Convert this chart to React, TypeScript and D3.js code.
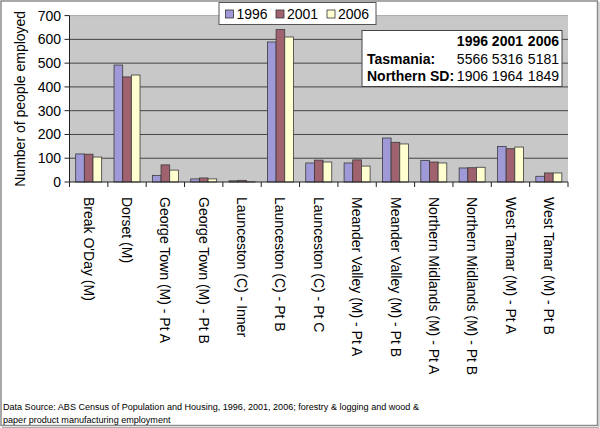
import React from "react";
import * as d3 from "d3";

const categories = [
  "Break O'Day (M)",
  "Dorset (M)",
  "George Town (M) - Pt A",
  "George Town (M) - Pt B",
  "Launceston (C) - Inner",
  "Launceston (C) - Pt B",
  "Launceston (C) - Pt C",
  "Meander Valley (M) - Pt A",
  "Meander Valley (M) - Pt B",
  "Northern Midlands (M) - Pt A",
  "Northern Midlands (M) - Pt B",
  "West Tamar (M) - Pt A",
  "West Tamar (M) - Pt B",
];
const seriesNames = ["1996", "2001", "2006"];
const values1996 = [118, 492, 28, 13, 5, 589, 80, 80, 185, 91, 59, 149, 24];
const values2001 = [117, 442, 72, 17, 7, 641, 92, 93, 167, 84, 60, 140, 38];
const values2006 = [105, 450, 50, 13, 1, 610, 84, 67, 160, 80, 62, 147, 38];
const yTicks = [0, 100, 200, 300, 400, 500, 600, 700];
const colors = ["#9f99d8", "#a0626e", "#ffffd0"];
const tableHeader = ["1996", "2001", "2006"];
const tableRows = [
  { label: "Tasmania:", vals: ["5566", "5316", "5181"] },
  { label: "Northern SD:", vals: ["1906", "1964", "1849"] },
];
const footnote = [
  "Data Source: ABS Census of Population and Housing, 1996, 2001, 2006; forestry & logging and wood &",
  "paper product manufacturing employment",
];

const W = 600;
const H = 428;
const FONT = "Arial, 'Liberation Sans', sans-serif";

export default function App() {
  const series = [values1996, values2001, values2006];
  const left = 69.5;
  const right = 568;
  const top = 15.6;
  const bottom = 182;
  const x = d3.scaleBand<string>().domain(categories).range([left, right]).paddingInner(0).paddingOuter(0);
  const bw = x.bandwidth();
  const groupW = 26;
  const xs = d3
    .scaleBand<string>()
    .domain(seriesNames)
    .range([(bw - groupW) / 2, (bw + groupW) / 2])
    .padding(0);
  const y = d3.scaleLinear().domain([0, 700]).range([bottom, top]);

  const colEnds = [488, 523, 559];

  return (
    <svg
      width={W}
      height={H}
      viewBox={`0 0 ${W} ${H}`}
      style={{ position: "absolute", left: 0, top: 0, fontFamily: FONT }}
    >
      <rect x={0} y={0} width={W} height={H} fill="#ffffff" />
      <rect x={1} y={1} width={596.5} height={424.5} fill="#ffffff" stroke="#8c8c8c" strokeWidth={1.5} />
      <line x1={599} y1={2} x2={599} y2={427} stroke="#b0b0b0" strokeWidth={1} />
      <line x1={2} y1={427.5} x2={599} y2={427.5} stroke="#b0b0b0" strokeWidth={1} />

      {/* plot area */}
      <rect x={left} y={top} width={right - left} height={bottom - top} fill="#c8c8c8" />
      <line x1={left} x2={right} y1={top} y2={top} stroke="#a8a8a8" strokeWidth={1} />
      {yTicks
        .filter((t) => t > 0 && t < 700)
        .map((t) => (
          <line key={t} x1={left} x2={right} y1={y(t)} y2={y(t)} stroke="#444" strokeWidth={1} />
        ))}

      {/* bars */}
      {categories.map((c, i) => (
        <g key={c} transform={`translate(${x(c)},0)`}>
          {seriesNames.map((s, j) => {
            const v = series[j][i];
            const bx = xs(s)!;
            return (
              <rect
                key={s}
                x={bx}
                y={y(v)}
                width={xs.bandwidth()}
                height={bottom - y(v)}
                fill={colors[j]}
                stroke="#3a3a3a"
                strokeWidth={0.8}
              />
            );
          })}
        </g>
      ))}

      {/* axes */}
      <line x1={left} x2={left} y1={top} y2={bottom} stroke="#222" strokeWidth={1} />
      <line x1={left} x2={right} y1={bottom} y2={bottom} stroke="#222" strokeWidth={1} />
      {yTicks.map((t) => (
        <g key={t}>
          <line x1={left - 5} x2={left} y1={y(t)} y2={y(t)} stroke="#222" />
          <text x={61} y={y(t)} dy="0.35em" textAnchor="end" fontSize={14} fill="#000">
            {t}
          </text>
        </g>
      ))}
      {categories.map((c) => (
        <line key={c} x1={x(c)!} x2={x(c)!} y1={bottom} y2={bottom + 5} stroke="#222" />
      ))}
      <line x1={right} x2={right} y1={bottom} y2={bottom + 5} stroke="#222" />
      {categories.map((c) => {
        const cx = x(c)! + bw / 2;
        return (
          <text
            key={c}
            transform={`translate(${cx},${197}) rotate(90)`}
            dy="0.35em"
            fontSize={14}
            fill="#000"
          >
            {c}
          </text>
        );
      })}

      <text
        transform={`translate(20,${(top + bottom) / 2}) rotate(-90)`}
        textAnchor="middle"
        dy="0.35em"
        fontSize={14}
        fill="#000"
      >
        Number of people employed
      </text>

      {/* legend */}
      <rect x={219} y={2.5} width={157} height={22} fill="#fff" stroke="#555" strokeWidth={1} />
      {seriesNames.map((s, j) => {
        const sx = [225.5, 276, 327][j];
        return (
          <g key={s}>
            <rect x={sx} y={10} width={8} height={8} fill={colors[j]} stroke="#333" strokeWidth={0.8} />
            <text x={sx + 11} y={19} fontSize={14} fill="#000">
              {s}
            </text>
          </g>
        );
      })}

      {/* inset table */}
      <rect x={362} y={30.5} width={200} height={56} fill="#fff" stroke="#444" strokeWidth={1} />
      {tableHeader.map((h, k) => (
        <text key={h} x={colEnds[k]} y={46} textAnchor="end" fontSize={14} fontWeight="bold" fill="#000">
          {h}
        </text>
      ))}
      {tableRows.map((r, ri) => (
        <g key={r.label}>
          <text x={367} y={63.5 + ri * 17.5} fontSize={14} fontWeight="bold" fill="#000">
            {r.label}
          </text>
          {r.vals.map((v, k) => (
            <text key={k} x={colEnds[k]} y={63.5 + ri * 17.5} textAnchor="end" fontSize={14} fill="#000">
              {v}
            </text>
          ))}
        </g>
      ))}

      {/* footnote */}
      {footnote.map((l, i) => (
        <text key={i} x={3} y={409.5 + i * 13.5} fontSize={9.05} fill="#000">
          {l}
        </text>
      ))}
    </svg>
  );
}
